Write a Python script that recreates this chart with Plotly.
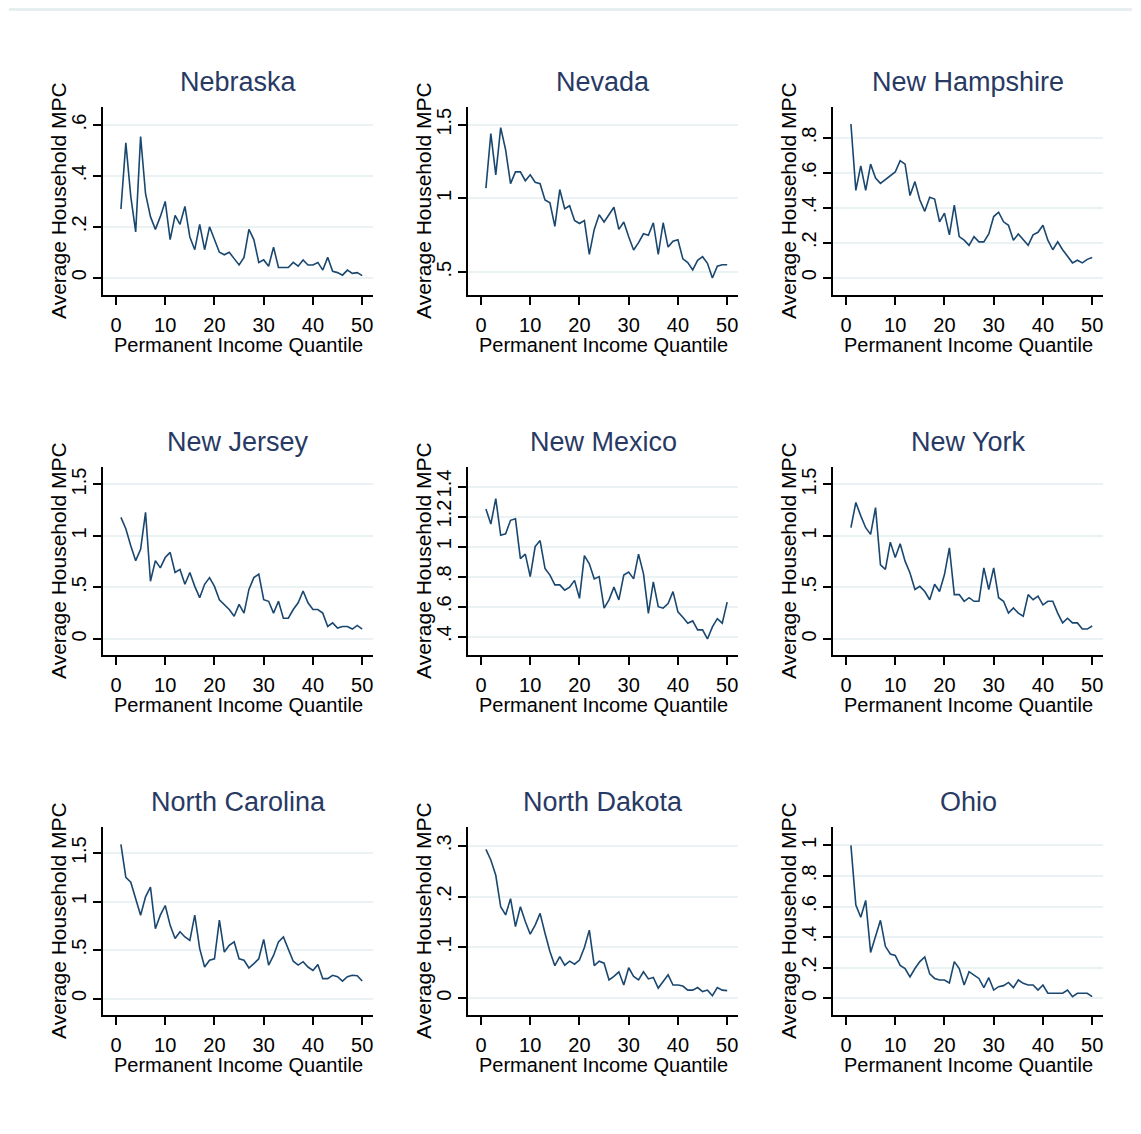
import plotly.graph_objects as go

states = ["Nebraska", "Nevada", "New Hampshire", "New Jersey", "New Mexico",
          "New York", "North Carolina", "North Dakota", "Ohio"]
quantile = list(range(1, 51))

nebraska = [0.27, 0.53, 0.32, 0.18, 0.555, 0.33, 0.24, 0.19, 0.24, 0.30,
            0.15, 0.245, 0.21, 0.28, 0.16, 0.11, 0.21, 0.11, 0.20, 0.15,
            0.10, 0.09, 0.10, 0.075, 0.05, 0.08, 0.19, 0.15, 0.06, 0.07,
            0.045, 0.12, 0.04, 0.04, 0.04, 0.06, 0.045, 0.07, 0.05, 0.05,
            0.06, 0.03, 0.08, 0.025, 0.02, 0.01, 0.03, 0.017, 0.02, 0.008]
nevada = [1.07, 1.44, 1.16, 1.48, 1.33, 1.10, 1.18, 1.18, 1.12, 1.16,
          1.11, 1.10, 0.99, 0.97, 0.81, 1.06, 0.93, 0.95, 0.85, 0.83,
          0.85, 0.62, 0.79, 0.89, 0.84, 0.89, 0.94, 0.79, 0.84, 0.74,
          0.65, 0.70, 0.76, 0.75, 0.835, 0.62, 0.835, 0.67, 0.71, 0.72,
          0.59, 0.565, 0.515, 0.58, 0.605, 0.56, 0.46, 0.54, 0.55, 0.55]
new_hampshire = [0.88, 0.50, 0.64, 0.50, 0.65, 0.57, 0.54, 0.56, 0.58, 0.605,
                 0.67, 0.65, 0.47, 0.55, 0.445, 0.38, 0.46, 0.45, 0.32, 0.37,
                 0.245, 0.415, 0.235, 0.215, 0.185, 0.235, 0.205, 0.205, 0.25, 0.35,
                 0.375, 0.32, 0.30, 0.215, 0.25, 0.215, 0.185, 0.245, 0.26, 0.30,
                 0.215, 0.16, 0.205, 0.16, 0.12, 0.085, 0.10, 0.085, 0.105, 0.115]
new_jersey = [1.18, 1.07, 0.905, 0.76, 0.87, 1.23, 0.56, 0.76, 0.69, 0.79,
              0.84, 0.645, 0.675, 0.53, 0.645, 0.51, 0.40, 0.53, 0.595, 0.51,
              0.38, 0.335, 0.285, 0.22, 0.335, 0.25, 0.48, 0.595, 0.63, 0.38,
              0.365, 0.25, 0.365, 0.20, 0.20, 0.285, 0.35, 0.465, 0.35, 0.285,
              0.285, 0.25, 0.12, 0.155, 0.105, 0.12, 0.12, 0.095, 0.13, 0.095]
new_mexico = [1.25, 1.15, 1.32, 1.075, 1.085, 1.175, 1.185, 0.92, 0.95, 0.80,
              1.0, 1.04, 0.855, 0.81, 0.745, 0.745, 0.71, 0.73, 0.775, 0.655,
              0.94, 0.885, 0.785, 0.80, 0.59, 0.645, 0.73, 0.645, 0.81, 0.83,
              0.785, 0.95, 0.82, 0.555, 0.765, 0.60, 0.59, 0.62, 0.70, 0.565,
              0.53, 0.49, 0.505, 0.445, 0.445, 0.385, 0.465, 0.52, 0.49, 0.63]
new_york = [1.08, 1.325, 1.195, 1.08, 1.015, 1.275, 0.72, 0.675, 0.94, 0.79,
            0.925, 0.755, 0.64, 0.48, 0.51, 0.46, 0.38, 0.53, 0.46, 0.625,
            0.885, 0.43, 0.43, 0.365, 0.40, 0.365, 0.365, 0.69, 0.48, 0.69,
            0.40, 0.365, 0.25, 0.30, 0.25, 0.22, 0.43, 0.38, 0.415, 0.33,
            0.365, 0.365, 0.25, 0.155, 0.20, 0.155, 0.155, 0.095, 0.095, 0.125]
north_carolina = [1.59, 1.25, 1.20, 1.03, 0.86, 1.05, 1.15, 0.72, 0.86, 0.96,
                  0.755, 0.62, 0.69, 0.635, 0.60, 0.86, 0.515, 0.325, 0.395, 0.41,
                  0.81, 0.48, 0.55, 0.585, 0.41, 0.395, 0.315, 0.36, 0.41, 0.61,
                  0.345, 0.445, 0.585, 0.635, 0.515, 0.385, 0.345, 0.38, 0.325, 0.29,
                  0.35, 0.205, 0.205, 0.24, 0.225, 0.18, 0.225, 0.24, 0.235, 0.18]
north_dakota = [0.293, 0.272, 0.242, 0.18, 0.164, 0.196, 0.141, 0.18, 0.151, 0.126,
                0.144, 0.167, 0.128, 0.092, 0.064, 0.082, 0.065, 0.073, 0.067, 0.075,
                0.10, 0.134, 0.064, 0.073, 0.069, 0.036, 0.043, 0.052, 0.026, 0.06,
                0.043, 0.036, 0.052, 0.038, 0.041, 0.02, 0.033, 0.046, 0.026, 0.026,
                0.024, 0.016, 0.016, 0.021, 0.013, 0.016, 0.005, 0.021, 0.016, 0.015]
ohio = [1.0, 0.61, 0.53, 0.64, 0.30, 0.41, 0.51, 0.34, 0.29, 0.28,
        0.215, 0.195, 0.14, 0.195, 0.24, 0.27, 0.16, 0.13, 0.12, 0.12,
        0.10, 0.24, 0.195, 0.087, 0.174, 0.152, 0.13, 0.07, 0.135, 0.054,
        0.076, 0.083, 0.104, 0.07, 0.12, 0.098, 0.087, 0.087, 0.054, 0.087,
        0.033, 0.033, 0.033, 0.033, 0.054, 0.011, 0.033, 0.033, 0.033, 0.011]

series = [nebraska, nevada, new_hampshire, new_jersey, new_mexico,
          new_york, north_carolina, north_dakota, ohio]

y_ticks = [
    [0, 0.2, 0.4, 0.6],
    [0.5, 1, 1.5],
    [0, 0.2, 0.4, 0.6, 0.8],
    [0, 0.5, 1, 1.5],
    [0.4, 0.6, 0.8, 1, 1.2, 1.4],
    [0, 0.5, 1, 1.5],
    [0, 0.5, 1, 1.5],
    [0, 0.1, 0.2, 0.3],
    [0, 0.2, 0.4, 0.6, 0.8, 1],
]
y_tick_text = [
    ["0", ".2", ".4", ".6"],
    [".5", "1", "1.5"],
    ["0", ".2", ".4", ".6", ".8"],
    ["0", ".5", "1", "1.5"],
    [".4", ".6", ".8", "1", "1.2", "1.4"],
    ["0", ".5", "1", "1.5"],
    ["0", ".5", "1", "1.5"],
    ["0", ".1", ".2", ".3"],
    ["0", ".2", ".4", ".6", ".8", "1"],
]
y_ranges = [
    [-0.068, 0.671],
    [0.345, 1.62],
    [-0.099, 0.977],
    [-0.157, 1.67],
    [0.278, 1.53],
    [-0.157, 1.67],
    [-0.17, 1.77],
    [-0.033, 0.337],
    [-0.109, 1.12],
]
x_ticks = [0, 10, 20, 30, 40, 50]
x_tick_text = ["0", "10", "20", "30", "40", "50"]

x_title = "Permanent Income Quantile"
y_title = "Average Household MPC"

# page is offset by the 8px body margin
OFF = 8
W, H = 1141 - OFF, 1134 - OFF
LINE = "#1a476f"
GRID = "#eaf2f3"
FONT = "Liberation Sans, Arial, sans-serif"


def px(v):
    return (v - OFF) / W


def py(v):
    return 1 - (v - OFF) / H


fig = go.Figure()
layout = dict(
    width=W, height=H,
    margin=dict(l=0, r=0, t=0, b=0),
    paper_bgcolor="white", plot_bgcolor="white",
    showlegend=False,
    font=dict(family=FONT, color="black"),
    annotations=[], shapes=[],
)

for i, (name, vals) in enumerate(zip(states, series)):
    r, c = divmod(i, 3)
    left, right = 103 + 365 * c, 373 + 365 * c
    top, bottom = 107 + 360 * r, 295 + 360 * r
    xa = "x" if i == 0 else f"x{i+1}"
    ya = "y" if i == 0 else f"y{i+1}"
    fig.add_trace(go.Scatter(x=quantile, y=vals, mode="lines",
                             line=dict(color=LINE, width=1.6),
                             xaxis=xa, yaxis=ya, name=name))
    xkey = "xaxis" if i == 0 else f"xaxis{i+1}"
    ykey = "yaxis" if i == 0 else f"yaxis{i+1}"
    layout[xkey] = dict(
        domain=[px(left), px(right)], anchor=ya,
        range=[-2.64, 52.2], tickmode="array", tickvals=x_ticks, ticktext=x_tick_text,
        showgrid=False, zeroline=False, showline=True, linecolor="black", linewidth=1.5,
        ticks="outside", ticklen=8, tickwidth=1.5, tickcolor="black",
        tickfont=dict(size=20, color="black"), ticklabelstandoff=3,
    )
    layout[ykey] = dict(
        domain=[py(bottom), py(top)], anchor=xa,
        range=y_ranges[i], tickmode="array", tickvals=y_ticks[i], ticktext=y_tick_text[i],
        showgrid=True, gridcolor=GRID, gridwidth=2, zeroline=False,
        showline=True, linecolor="black", linewidth=1.5,
        ticks="outside", ticklen=8, tickwidth=1.5, tickcolor="black",
        tickangle=-90, tickfont=dict(size=20, color="black"), ticklabelstandoff=-1,
    )
    # panel title
    layout["annotations"].append(dict(
        text=name, x=px((left + right) / 2), y=py(99 + 360 * r),
        xref="paper", yref="paper", xanchor="center", yanchor="bottom",
        showarrow=False, font=dict(size=27, color="#283a64", family=FONT),
    ))
    # x axis title
    layout["annotations"].append(dict(
        text=x_title, x=px((left + right) / 2), y=py(345 + 360 * r),
        xref="paper", yref="paper", xanchor="center", yanchor="middle",
        showarrow=False, font=dict(size=20, color="black", family=FONT),
    ))
    # y axis title
    layout["annotations"].append(dict(
        text=y_title, x=px(58 + 365 * c), y=py((top + bottom) / 2),
        xref="paper", yref="paper", xanchor="center", yanchor="middle",
        textangle=-90, showarrow=False,
        font=dict(size=21, color="black", family=FONT),
    ))

layout["shapes"].append(dict(type="line", xref="paper", yref="paper",
                             x0=px(9), x1=px(1132), y0=py(9.5), y1=py(9.5),
                             line=dict(color="#e6eeef", width=3)))

fig.update_layout(**layout)
fig.write_html("out.html")
